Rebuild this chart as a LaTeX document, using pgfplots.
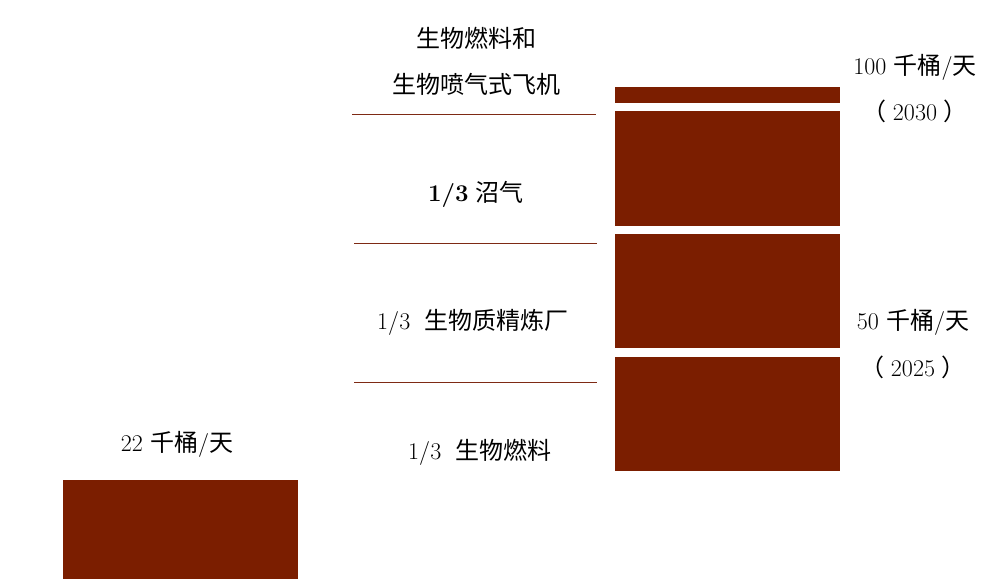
\documentclass[border=0pt]{standalone}
\usepackage{fontspec}
\usepackage{pgfplots}
\pgfplotsset{compat=1.18}
\newfontfamily\cjk{Noto Sans CJK SC}
\definecolor{barred}{HTML}{7B1E00}
\definecolor{rule}{HTML}{7E2A14}

\begin{document}
\begin{tikzpicture}
\begin{axis}[
  scale only axis, width=998bp, height=579bp,
  xmin=0, xmax=998, ymin=0, ymax=579,
  hide axis, clip=false,
  ybar stacked,
  nodes={font=\fontsize{24bp}{28bp}\selectfont},
]
% left bar (22) at x=180.5, right bar pieces at x=727.5 (units: px)
\addplot[fill=barred, draw=none, bar width=235] coordinates {(180.5,99) (727.5,0)};
\addplot[fill=none, draw=none, bar width=225] coordinates {(180.5,0) (727.5,108)};
\addplot[fill=barred, draw=none, bar width=225] coordinates {(180.5,0) (727.5,114)};
\addplot[fill=none, draw=none, bar width=225] coordinates {(180.5,0) (727.5,9)};
\addplot[fill=barred, draw=none, bar width=225] coordinates {(180.5,0) (727.5,114)};
\addplot[fill=none, draw=none, bar width=225] coordinates {(180.5,0) (727.5,8)};
\addplot[fill=barred, draw=none, bar width=225] coordinates {(180.5,0) (727.5,115)};
\addplot[fill=none, draw=none, bar width=225] coordinates {(180.5,0) (727.5,8)};
\addplot[fill=barred, draw=none, bar width=225] coordinates {(180.5,0) (727.5,16)};

% separator rules
\draw[rule, line width=1bp] (axis cs:352,464) -- (axis cs:596,464);
\draw[rule, line width=1bp] (axis cs:354,336) -- (axis cs:597,336);
\draw[rule, line width=1bp] (axis cs:354,197) -- (axis cs:597,197);

% labels
\node at (axis cs:476,541) {\cjk 生物燃料和};
\node at (axis cs:476,495) {\cjk 生物喷气式飞机};
\node at (axis cs:476,385) {\textbf{1/3} {\cjk 沼气}};
\node at (axis cs:473,257) {1/3\ \ {\cjk 生物质精炼厂}};
\node at (axis cs:480,127) {1/3\ \ {\cjk 生物燃料}};
\node at (axis cs:177,135) {22 {\cjk 千桶}/{\cjk 天}};
\node at (axis cs:915,512) {100 {\cjk 千桶}/{\cjk 天}};
\node at (axis cs:915,468) {{\cjk （}\hspace{6bp}2030\hspace{6bp}{\cjk ）}};
\node at (axis cs:913,257) {50 {\cjk 千桶}/{\cjk 天}};
\node at (axis cs:913,212) {{\cjk （}\hspace{6bp}2025\hspace{6bp}{\cjk ）}};
\path (rel axis cs:0,0) rectangle (rel axis cs:1,1);
\end{axis}
\end{tikzpicture}
\end{document}
